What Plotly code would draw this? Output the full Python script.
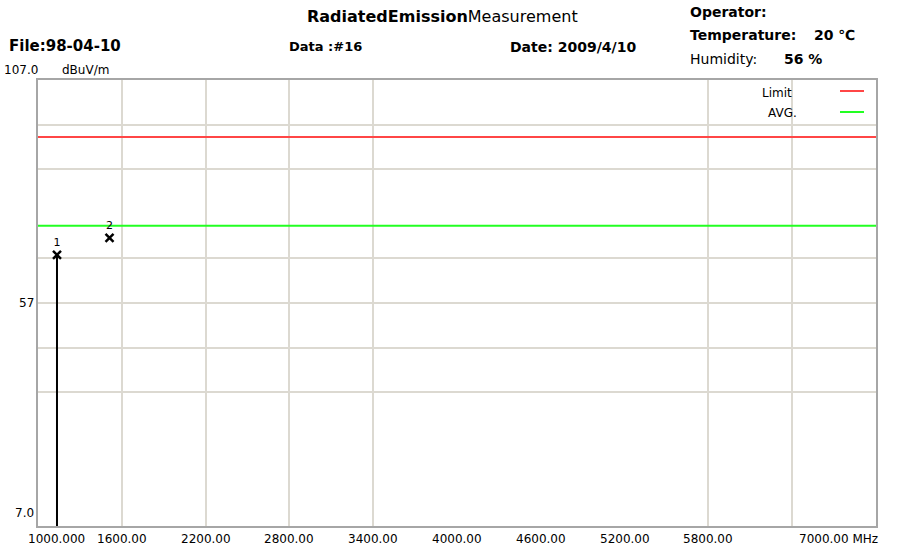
import plotly.graph_objects as go

# ---------------- data ----------------
freq_range = [1000, 7000]          # MHz
level_range = [7.0, 107.0]         # dBuV/m

limit_level = 94.2                 # red "Limit"
avg_level = 74.3                   # green "AVG."

spectrum_freq = [1136, 1136]
spectrum_level = [7.0, 67.8]

marker_freq = [1136, 1512]
marker_level = [67.8, 71.6]
marker_names = ["1", "2"]

x_tick_vals = [1000, 1600, 2200, 2800, 3400, 4000, 4600, 5200, 5800, 7000]
x_tick_text = ["1000.000", "1600.00", "2200.00", "2800.00", "3400.00",
               "4000.00", "4600.00", "5200.00", "5800.00", "7000.00 MHz"]
x_grid_vals = [1600, 2200, 2800, 3400, 5800, 6400]

y_tick_vals = [107.0, 57.0, 7.0]
y_tick_text = ["107.0", "57", "7.0"]
y_grid_vals = [97, 87, 67, 57, 47, 37]

# ---------------- layout helpers ----------------
W, H = 908, 547
L, R, T, B = 38, 32, 80, 21
PW, PH = W - L - R, H - T - B


def px(xp):
    return (xp - L) / PW


def py(yp):
    return (H - B - yp) / PH


FONT = "DejaVu Sans"
fig = go.Figure()

# spectrum trace
fig.add_trace(go.Scatter(x=spectrum_freq, y=spectrum_level, mode="lines",
                         line=dict(color="black", width=2),
                         hoverinfo="skip", showlegend=False))
# limit lines
fig.add_trace(go.Scatter(x=freq_range, y=[limit_level, limit_level], mode="lines",
                         line=dict(color="#ff4646", width=2), name="Limit",
                         showlegend=False))
fig.add_trace(go.Scatter(x=freq_range, y=[avg_level, avg_level], mode="lines",
                         line=dict(color="#22ff22", width=2), name="AVG.",
                         showlegend=False))
# markers
fig.add_trace(go.Scatter(x=marker_freq, y=marker_level, mode="markers+text",
                         text=marker_names, textposition="top center",
                         textfont=dict(family=FONT, size=11, color="black"),
                         marker=dict(symbol="x-thin", size=8,
                                     line=dict(width=2.5, color="black"),
                                     color="black"),
                         showlegend=False))

ann = []
# x tick labels
x_anchor = {1000: ("left", -12), 7000: ("right", 4)}
for v, t in zip(x_tick_vals, x_tick_text):
    anc, sh = x_anchor.get(v, ("center", 0))
    ann.append(dict(x=v, xref="x", y=0, yref="paper", text=t, showarrow=False,
                    xanchor=anc, yanchor="top", xshift=sh, yshift=-4,
                    font=dict(family=FONT, size=12, color="black")))
# y tick labels
for v, t in zip(y_tick_vals, y_tick_text):
    if v == level_range[1]:
        ann.append(dict(x=px(40), xref="paper", y=v, yref="y", text=t, showarrow=False,
                        xanchor="right", yanchor="middle", yshift=10,
                        font=dict(family=FONT, size=12, color="black")))
    else:
        ann.append(dict(x=px(36), xref="paper", y=v, yref="y", text=t, showarrow=False,
                        xanchor="right", yanchor="middle",
                        yshift=13 if v == level_range[0] else 0,
                        font=dict(family=FONT, size=12, color="black")))
ann.append(dict(x=px(60), xref="paper", y=py(70), yref="paper", text="dBuV/m",
                showarrow=False, xanchor="left", yanchor="middle",
                font=dict(family=FONT, size=12, color="black")))

# header texts
def head(text, xl, yc, size=14, anchor="left"):
    ann.append(dict(x=px(xl), xref="paper", y=py(yc), yref="paper", text=text,
                    showarrow=False, xanchor=anchor, yanchor="middle",
                    font=dict(family=FONT, size=size, color="black")))

head("<b>RadiatedEmission</b>Measurement", 442, 17, 16, "center")
head("<b>File:98-04-10</b>", 7, 46, 15)
head("<b>Data :#16</b>", 287, 46, 13)
head("<b>Date: 2009/4/10</b>", 508, 47, 14)
head("<b>Operator:</b>", 688, 12, 14)
head("<b>Temperature:</b>", 688, 35, 14)
head("<b>20 ℃</b>", 812, 35, 14)
head("Humidity:", 688, 59, 14)
head("<b>56 %</b>", 782, 59, 14)

# legend
ann.append(dict(x=px(777), xref="paper", y=py(93), yref="paper", text="Limit",
                showarrow=False, xanchor="center", yanchor="middle",
                font=dict(family=FONT, size=12, color="black")))
ann.append(dict(x=px(782), xref="paper", y=py(113), yref="paper", text="AVG.",
                showarrow=False, xanchor="center", yanchor="middle",
                font=dict(family=FONT, size=12, color="black")))

shapes = [
    dict(type="rect", xref="paper", yref="paper", x0=px(752), x1=px(875),
         y0=py(121), y1=py(81), fillcolor="white", line=dict(width=0), layer="between"),
    dict(type="line", xref="paper", yref="paper", x0=px(840), x1=px(864),
         y0=py(91), y1=py(91), line=dict(color="#ff4646", width=2)),
    dict(type="line", xref="paper", yref="paper", x0=px(840), x1=px(864),
         y0=py(112), y1=py(112), line=dict(color="#22ff22", width=2)),
]

fig.update_layout(
    width=W, height=H,
    margin=dict(l=L, r=R, t=T, b=B),
    paper_bgcolor="white", plot_bgcolor="white",
    annotations=ann, shapes=shapes,
    showlegend=False,
)
fig.update_xaxes(range=freq_range, tickvals=x_grid_vals, showticklabels=False,
                 showgrid=True, gridcolor="#dcd9d1", gridwidth=2, zeroline=False,
                 showline=True, linecolor="#a6a6a6", linewidth=2, mirror=True, ticks="")
fig.update_yaxes(range=level_range, tickvals=y_grid_vals, showticklabels=False,
                 showgrid=True, gridcolor="#dcd9d1", gridwidth=2, zeroline=False,
                 showline=True, linecolor="#a6a6a6", linewidth=2, mirror=True, ticks="")

fig.write_html("out.html", config={"displayModeBar": False},
               post_script="document.body.style.margin='0';document.body.style.overflow='hidden';")
